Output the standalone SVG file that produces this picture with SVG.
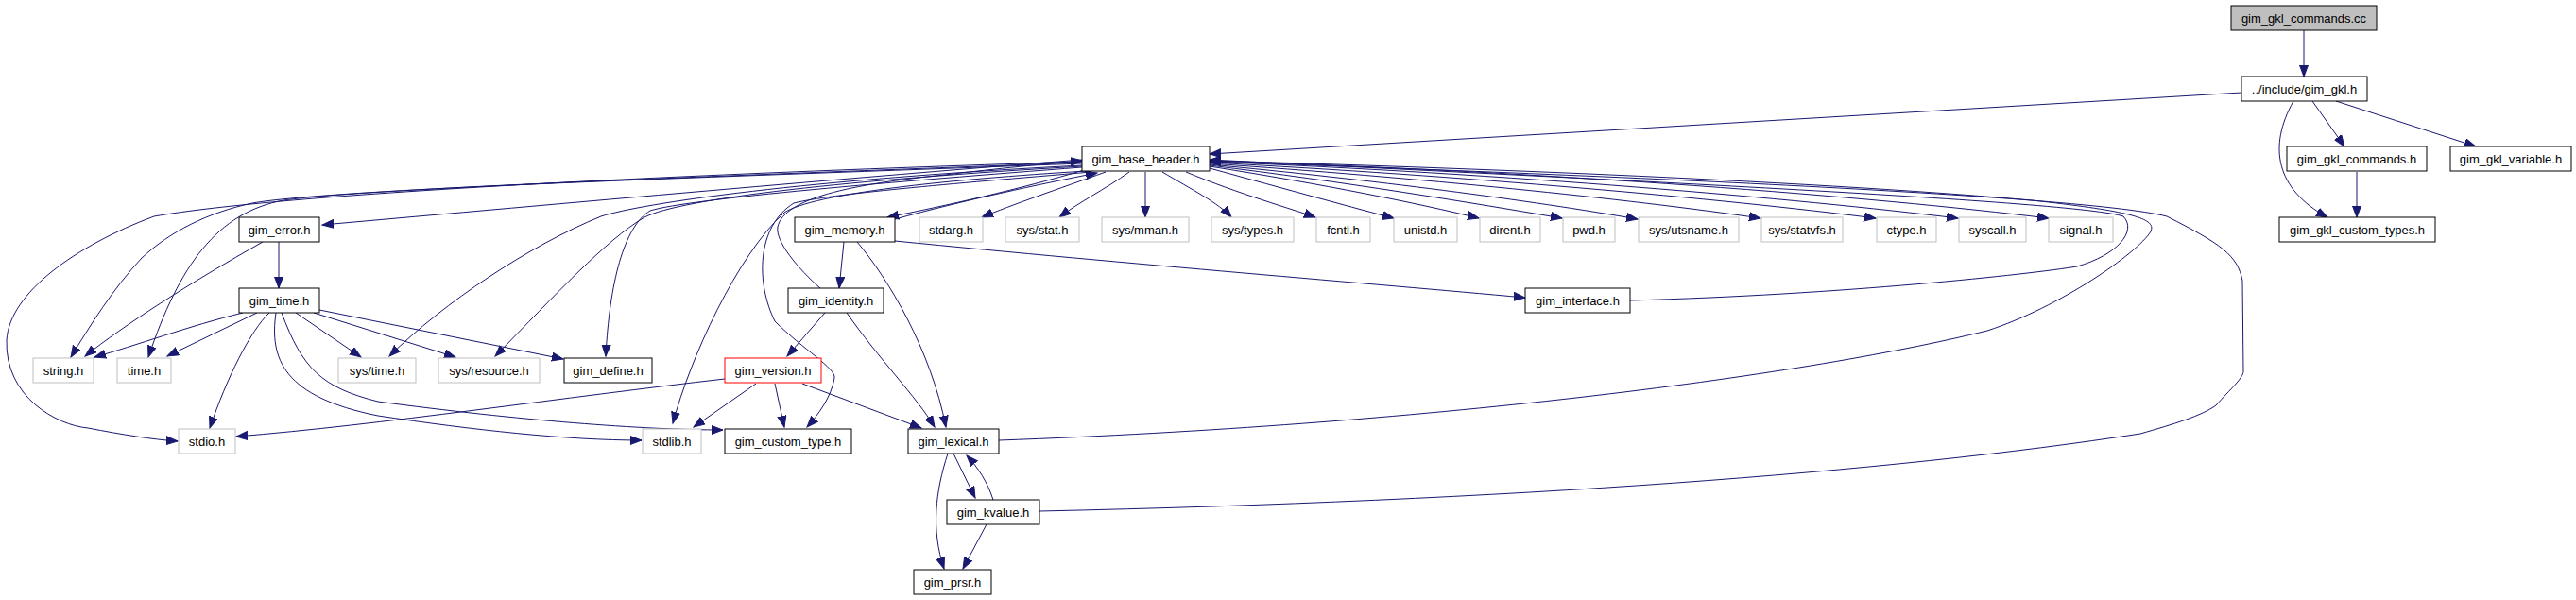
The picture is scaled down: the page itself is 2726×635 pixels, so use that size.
<svg xmlns="http://www.w3.org/2000/svg" width="2726" height="635" viewBox="0 0 2726 635">
<defs>
<marker id="arr" markerUnits="userSpaceOnUse" markerWidth="14" markerHeight="11" refX="12" refY="5" orient="auto">
<path d="M0,0.5 L12,5 L0,9.5 z" fill="#191970" stroke="#191970" stroke-width="1"/>
</marker>
</defs>
<style>
.n rect{fill:#ffffff;stroke:#000000;stroke-width:1}
.g rect{stroke:#bfbfbf}
.r rect{stroke:#ff0000}
.root rect{fill:#bfbfbf}
text{font-family:"Liberation Sans",Arial,sans-serif;font-size:13px;fill:#000000;text-anchor:middle}
#edges path{fill:none;stroke:#191970;stroke-width:1;marker-end:url(#arr)}
</style>
<rect width="2726" height="635" fill="#ffffff"/>
<g id="edges">
<path d="M2438,32 L2438,81"/>
<path d="M2372,98 L1280,163"/>
<path d="M2447,107 L2481,155"/>
<path d="M2472,107 L2620,155"/>
<path d="M2427,107 C2400,155 2408,200 2463,230"/>
<path d="M2494,182 L2494,230"/>
<path d="M1230,182 C1260,200 1290,215 1303,230"/>
<path d="M1255,182 C1310,205 1370,222 1392,230"/>
<path d="M1280,178 C1360,200 1440,222 1475,231"/>
<path d="M1280,176 C1400,195 1500,215 1565,231"/>
<path d="M1280,175 C1420,192 1560,215 1653,231"/>
<path d="M1280,174 C1450,190 1620,212 1733,232"/>
<path d="M1280,173 C1500,188 1720,210 1863,231"/>
<path d="M1280,172 C1550,186 1820,210 1985,231"/>
<path d="M1280,171 C1600,184 1900,210 2072,231"/>
<path d="M1280,170 C1650,182 1980,208 2168,231"/>
<path d="M1725,318 C1950,312 2150,290 2198,282 C2240,270 2262,245 2247,229 C2200,213 1700,190 1280,169"/>
<path d="M1057,466 C1500,450 1900,400 2103,350 C2180,325 2262,268 2276,245 C2282,232 2260,224 2150,212 C1900,190 1500,176 1280,170"/>
<path d="M1100,541 C1600,530 2000,500 2265,459 C2300,449 2330,440 2345,429 C2360,412 2374,400 2374,393 L2373,297 C2368,270 2350,258 2293,229 C2200,205 1600,182 1280,171"/>
<path d="M1147,180 C1080,200 1000,218 939,230"/>
<path d="M947,232 C1020,212 1100,195 1161,183"/>
<path d="M1170,182 C1120,200 1070,217 1039,230"/>
<path d="M1195,182 C1170,200 1140,215 1121,230"/>
<path d="M1212,182 L1212,230"/>
<path d="M1145,169 C900,188 600,215 341,238"/>
<path d="M1145,172 C800,185 350,200 267,215 C220,225 180,245 150,273 C120,305 95,345 75,378"/>
<path d="M1145,173 C800,186 400,198 300,212 C230,225 190,280 157,378"/>
<path d="M1145,171 C700,185 300,205 163,229 C80,260 10,310 7,360 C5,420 60,450 93,453 C130,460 160,465 188,467"/>
<path d="M1145,175 C850,190 680,215 636,229 C560,260 470,320 412,377"/>
<path d="M1145,176 C900,190 720,210 682,230 C640,255 590,310 524,377"/>
<path d="M1145,177 C950,192 730,210 688,223 C660,240 645,300 641,377"/>
<path d="M1150,181 C1000,190 860,205 830,225 C780,270 730,380 712,448"/>
<path d="M1155,182 C1000,195 880,205 840,215 C800,240 800,300 820,340 C850,370 885,390 883,400 C880,420 865,440 854,452"/>
<path d="M868,305 C845,285 820,255 823,240 C830,210 900,195 1000,185 C1060,178 1100,174 1145,170"/>
<path d="M893,256 L888,305"/>
<path d="M907,256 C940,295 985,370 1001,452"/>
<path d="M947,255 C1200,280 1450,300 1614,315"/>
<path d="M873,331 L833,377"/>
<path d="M896,331 C930,380 970,420 989,452"/>
<path d="M767,401 C600,420 400,450 250,462"/>
<path d="M800,406 L734,452"/>
<path d="M820,406 L830,452"/>
<path d="M849,406 L975,453"/>
<path d="M295,256 L295,305"/>
<path d="M278,256 C200,300 130,345 90,377"/>
<path d="M257,331 C200,345 143,366 100,378"/>
<path d="M272,331 L177,377"/>
<path d="M285,331 C265,350 240,400 222,453"/>
<path d="M292,331 C285,380 300,420 400,440 C500,455 600,466 679,466"/>
<path d="M298,331 C320,390 340,410 400,425 C550,445 680,455 765,455"/>
<path d="M313,331 L382,378"/>
<path d="M332,331 L482,378"/>
<path d="M338,328 L596,380"/>
<path d="M1003,480 C990,520 985,560 999,602"/>
<path d="M1009,480 L1032,527"/>
<path d="M1051,529 C1045,510 1035,495 1023,482"/>
<path d="M1044,555 L1019,602"/>
</g>
<g id="n_gkl_commands_cc" class="n root"><rect x="2361" y="6" width="154" height="26"/><text x="2438" y="23.5">gim_gkl_commands.cc</text></g>
<g id="n_gim_gkl_h" class="n"><rect x="2372" y="81" width="133" height="26"/><text x="2438.5" y="98.5">../include/gim_gkl.h</text></g>
<g id="n_base_header" class="n"><rect x="1145" y="155" width="135" height="26"/><text x="1212.5" y="172.5">gim_base_header.h</text></g>
<g id="n_gkl_commands_h" class="n"><rect x="2420" y="155" width="148" height="26"/><text x="2494" y="172.5">gim_gkl_commands.h</text></g>
<g id="n_gkl_variable" class="n"><rect x="2593" y="155" width="128" height="26"/><text x="2657" y="172.5">gim_gkl_variable.h</text></g>
<g id="n_error" class="n"><rect x="253" y="230" width="85" height="26"/><text x="295.5" y="247.5">gim_error.h</text></g>
<g id="n_memory" class="n"><rect x="841" y="230" width="106" height="26"/><text x="894" y="247.5">gim_memory.h</text></g>
<g id="n_stdarg" class="n g"><rect x="973" y="230" width="67" height="26"/><text x="1006.5" y="247.5">stdarg.h</text></g>
<g id="n_sys_stat" class="n g"><rect x="1064" y="230" width="78" height="26"/><text x="1103" y="247.5">sys/stat.h</text></g>
<g id="n_sys_mman" class="n g"><rect x="1166" y="230" width="92" height="26"/><text x="1212" y="247.5">sys/mman.h</text></g>
<g id="n_sys_types" class="n g"><rect x="1282" y="230" width="87" height="26"/><text x="1325.5" y="247.5">sys/types.h</text></g>
<g id="n_fcntl" class="n g"><rect x="1393" y="230" width="57" height="26"/><text x="1421.5" y="247.5">fcntl.h</text></g>
<g id="n_unistd" class="n g"><rect x="1475" y="230" width="67" height="26"/><text x="1508.5" y="247.5">unistd.h</text></g>
<g id="n_dirent" class="n g"><rect x="1566" y="230" width="64" height="26"/><text x="1598" y="247.5">dirent.h</text></g>
<g id="n_pwd" class="n g"><rect x="1654" y="230" width="55" height="26"/><text x="1681.5" y="247.5">pwd.h</text></g>
<g id="n_sys_utsname" class="n g"><rect x="1734" y="230" width="106" height="26"/><text x="1787" y="247.5">sys/utsname.h</text></g>
<g id="n_sys_statvfs" class="n g"><rect x="1864" y="230" width="86" height="26"/><text x="1907" y="247.5">sys/statvfs.h</text></g>
<g id="n_ctype" class="n g"><rect x="1986" y="230" width="63" height="26"/><text x="2017.5" y="247.5">ctype.h</text></g>
<g id="n_syscall" class="n g"><rect x="2073" y="230" width="71" height="26"/><text x="2108.5" y="247.5">syscall.h</text></g>
<g id="n_signal" class="n g"><rect x="2168" y="230" width="68" height="26"/><text x="2202" y="247.5">signal.h</text></g>
<g id="n_gkl_custom_types" class="n"><rect x="2412" y="230" width="165" height="26"/><text x="2494.5" y="247.5">gim_gkl_custom_types.h</text></g>
<g id="n_time_h_gim" class="n"><rect x="253" y="305" width="85" height="26"/><text x="295.5" y="322.5">gim_time.h</text></g>
<g id="n_identity" class="n"><rect x="834" y="305" width="101" height="26"/><text x="884.5" y="322.5">gim_identity.h</text></g>
<g id="n_interface" class="n"><rect x="1614" y="305" width="111" height="26"/><text x="1669.5" y="322.5">gim_interface.h</text></g>
<g id="n_string" class="n g"><rect x="35" y="379" width="64" height="26"/><text x="67" y="396.5">string.h</text></g>
<g id="n_time" class="n g"><rect x="124" y="379" width="57" height="26"/><text x="152.5" y="396.5">time.h</text></g>
<g id="n_sys_time" class="n g"><rect x="358" y="379" width="82" height="26"/><text x="399" y="396.5">sys/time.h</text></g>
<g id="n_sys_resource" class="n g"><rect x="464" y="379" width="107" height="26"/><text x="517.5" y="396.5">sys/resource.h</text></g>
<g id="n_define" class="n"><rect x="597" y="379" width="93" height="26"/><text x="643.5" y="396.5">gim_define.h</text></g>
<g id="n_version" class="n r"><rect x="767" y="379" width="102" height="26"/><text x="818" y="396.5">gim_version.h</text></g>
<g id="n_stdio" class="n g"><rect x="189" y="454" width="60" height="26"/><text x="219" y="471.5">stdio.h</text></g>
<g id="n_stdlib" class="n g"><rect x="680" y="454" width="62" height="26"/><text x="711" y="471.5">stdlib.h</text></g>
<g id="n_custom_type" class="n"><rect x="767" y="454" width="134" height="26"/><text x="834" y="471.5">gim_custom_type.h</text></g>
<g id="n_lexical" class="n"><rect x="961" y="454" width="96" height="26"/><text x="1009" y="471.5">gim_lexical.h</text></g>
<g id="n_kvalue" class="n"><rect x="1002" y="529" width="98" height="26"/><text x="1051" y="546.5">gim_kvalue.h</text></g>
<g id="n_prsr" class="n"><rect x="967" y="603" width="82" height="26"/><text x="1008" y="620.5">gim_prsr.h</text></g>
</svg>
